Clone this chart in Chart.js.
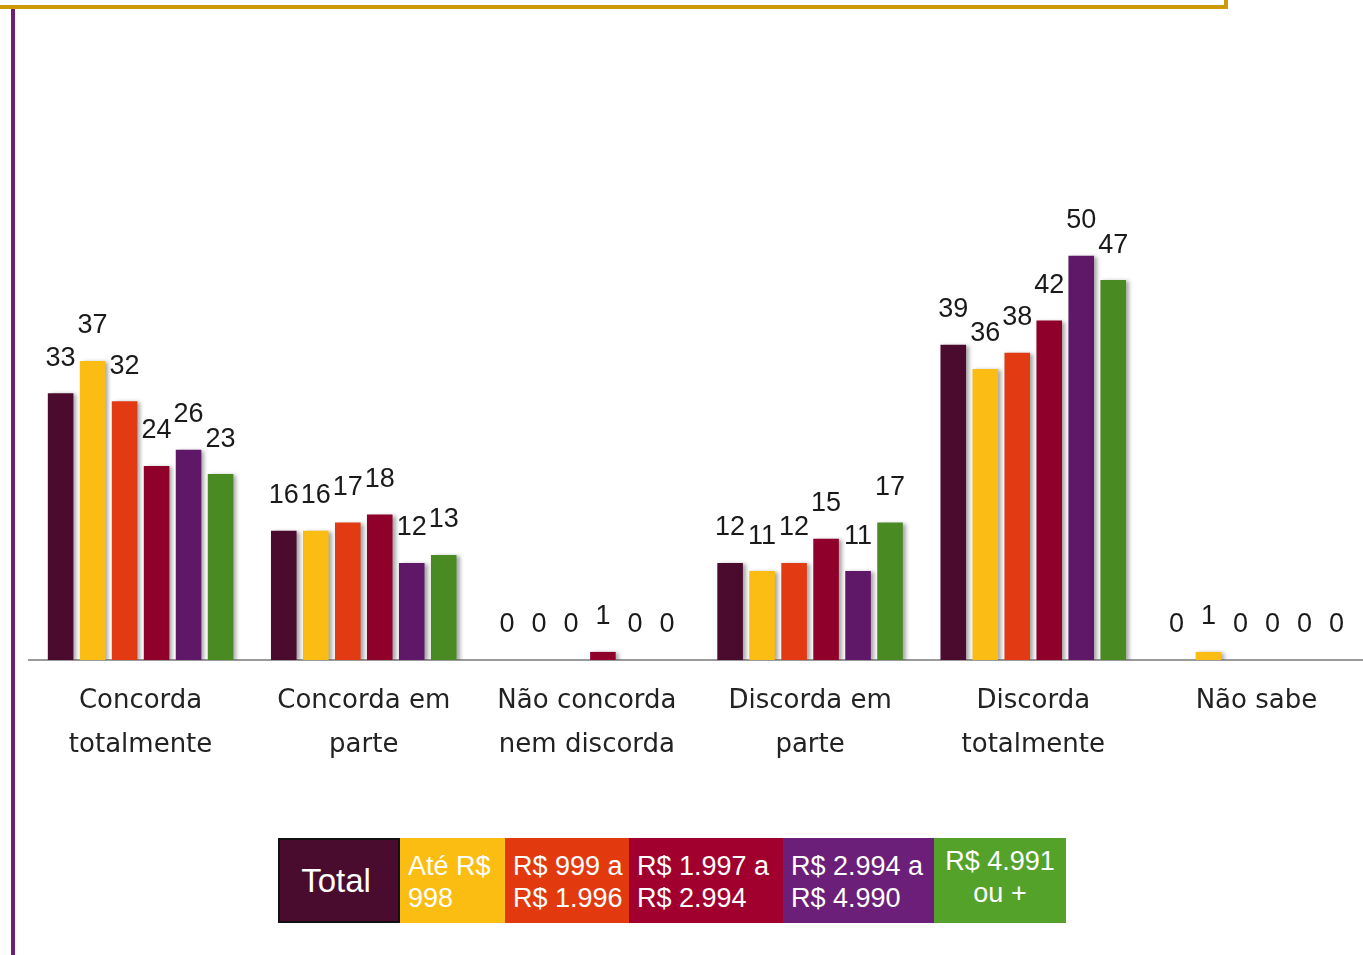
<!DOCTYPE html>
<html>
<head>
<meta charset="utf-8">
<script src="https://cdn.jsdelivr.net/npm/chart.js@4/dist/chart.umd.min.js"></script>
<style>
  html, body { margin: 0; padding: 0; background: #fff; }
  body { width: 1363px; height: 955px; position: relative; overflow: hidden; }
  .topline { position: absolute; left: 0; top: 5px; width: 1228px; height: 4px; background: #cc9a06; }
  .topline-end { position: absolute; left: 1224px; top: 0; width: 4px; height: 9px; background: #cc9a06; }
  .leftline { position: absolute; left: 11px; top: 9px; width: 4px; height: 946px; background: #6b2079; }
  .wrap { position: absolute; left: 0; top: 0; width: 1368px; height: 800px; }
  .legenda { position: absolute; left: 278px; top: 838px; height: 85px; display: flex;
    font-family: "Liberation Sans", Arial, sans-serif; color: #fff; font-size: 27px; }
  .legenda div { height: 85px; box-sizing: border-box; display: flex; flex-direction: column;
    justify-content: center; line-height: 32px; padding-left: 8px; padding-top: 3px; }
  .legenda div.total { border: 2px solid #111; font-size: 33px; align-items: center; padding-left: 0; padding-right: 6px; padding-top: 0; }
  .legenda div.centro { align-items: center; padding-left: 0; padding-top: 0; padding-bottom: 8px; }
</style>
</head>
<body>
<div class="topline"></div>
<div class="topline-end"></div>
<div class="leftline"></div>
<div class="wrap"><canvas id="grafico"></canvas></div>
<div class="legenda" id="legenda"></div>
<script>
const categorias = [
    ['Concorda', 'totalmente'],
    ['Concorda em', 'parte'],
    ['Não concorda', 'nem discorda'],
    ['Discorda em', 'parte'],
    ['Discorda', 'totalmente'],
    ['Não sabe']
];
const faixas = ['Total', 'Até R$ 998', 'R$ 999 a R$ 1.996', 'R$ 1.997 a R$ 2.994', 'R$ 2.994 a R$ 4.990', 'R$ 4.991 ou +'];
const legendaLinhas = [['Total'], ['Até R$', '998'], ['R$ 999 a', 'R$ 1.996'], ['R$ 1.997 a', 'R$ 2.994'], ['R$ 2.994 a', 'R$ 4.990'], ['R$ 4.991', 'ou +']];

const vTotal = [33, 16, 0, 12, 39, 0];
const vAte998 = [37, 16, 0, 11, 36, 1];
const v999 = [32, 17, 0, 12, 38, 0];
const v1997 = [24, 18, 1, 15, 42, 0];
const v2994 = [26, 12, 0, 11, 50, 0];
const v4991 = [23, 13, 0, 17, 47, 0];

const coresBarra = ['#4b0b2f', '#fbbd13', '#e23a12', '#8f002b', '#5f1868', '#4a8a23'];
const coresLegenda = ['#4a0c2e', '#fcbd12', '#e2390f', '#a1002f', '#6b1f79', '#55a22b'];
const largLegenda = [122, 105, 124, 154, 151, 132];

const series = [vTotal, vAte998, v999, v1997, v2994, v4991];

// legenda em html
const leg = document.getElementById('legenda');
legendaLinhas.forEach((linhas, i) => {
    const d = document.createElement('div');
    d.style.background = coresLegenda[i];
    d.style.width = largLegenda[i] + 'px';
    if (i === 0) d.className = 'total';
    if (i === 5) d.className = 'centro';
    d.innerHTML = linhas.map(l => `<span>${l}</span>`).join('');
    leg.appendChild(d);
});

const sombra = {
    id: 'sombra',
    beforeDatasetDraw(chart) {
        const ctx = chart.ctx;
        ctx.save();
        ctx.shadowColor = 'rgba(0,0,0,0.35)';
        ctx.shadowOffsetX = 3;
        ctx.shadowOffsetY = 1;
        ctx.shadowBlur = 4;
    },
    afterDatasetDraw(chart) { chart.ctx.restore(); }
};

const rotulos = {
    id: 'rotulos',
    afterDatasetsDraw(chart) {
        const ctx = chart.ctx;
        ctx.save();
        ctx.font = '27px "Liberation Sans", Arial, sans-serif';
        ctx.fillStyle = '#1a1a1a';
        ctx.textAlign = 'center';
        ctx.textBaseline = 'middle';
        chart.data.datasets.forEach((ds, i) => {
            chart.getDatasetMeta(i).data.forEach((bar, j) => {
                ctx.fillText(ds.data[j], bar.x, bar.y - 35);
            });
        });
        ctx.restore();
    }
};

new Chart(document.getElementById('grafico'), {
    type: 'bar',
    data: {
        labels: categorias,
        datasets: series.map((s, i) => ({
            label: faixas[i],
            data: s,
            backgroundColor: coresBarra[i],
            borderWidth: 0,
            barPercentage: 0.8,
            categoryPercentage: 0.86
        }))
    },
    options: {
        responsive: true,
        maintainAspectRatio: false,
        animation: false,
        layout: { padding: { left: 29, right: 0, top: 175, bottom: 0 } },
        plugins: { legend: { display: false }, tooltip: { enabled: false } },
        scales: {
            y: { display: false, min: 0, max: 60 },
            x: {
                grid: { display: false },
                border: { display: true, color: '#9a9a9a', width: 2 },
                ticks: {
                    padding: 11,
                    color: '#222',
                    maxRotation: 0,
                    autoSkip: false,
                    font: { family: '"DejaVu Sans", sans-serif', size: 26, lineHeight: 1.7 }
                },
                afterFit(scale) { scale.height = 140; }
            }
        }
    },
    plugins: [sombra, rotulos]
});
</script>
</body>
</html>
